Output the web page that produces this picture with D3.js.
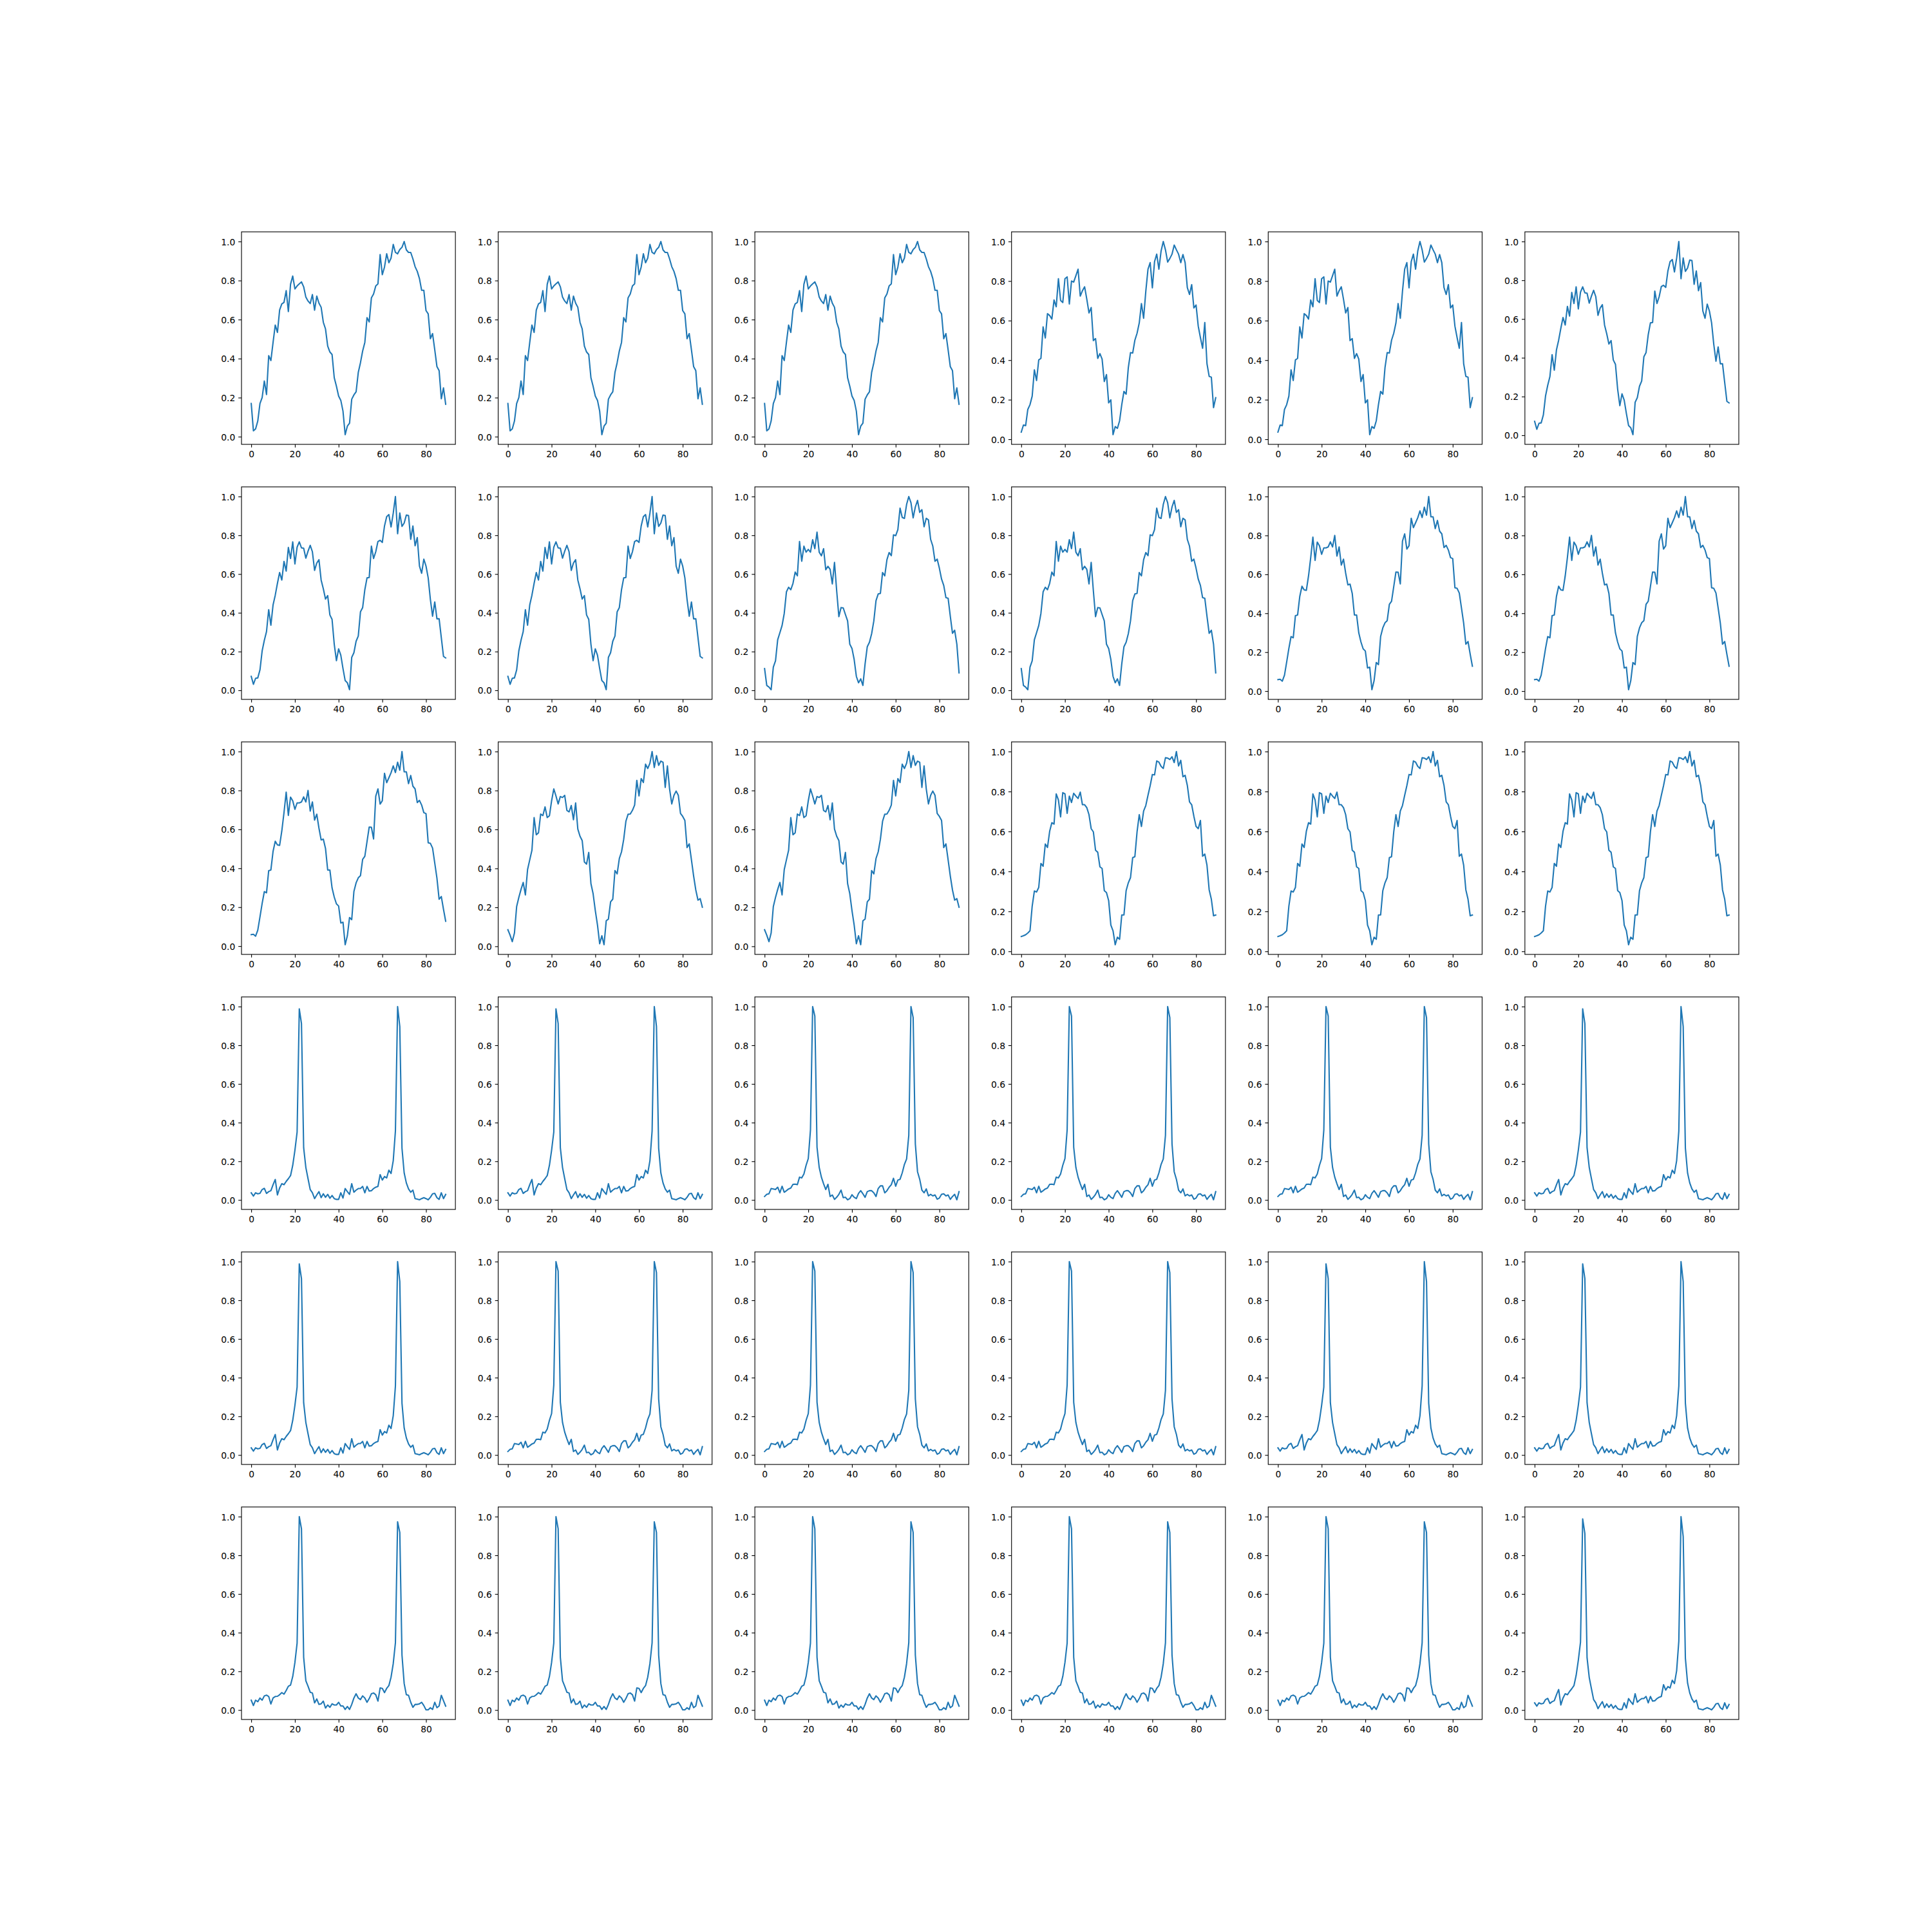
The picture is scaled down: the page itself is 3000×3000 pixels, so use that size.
<!DOCTYPE html>
<html><head><meta charset="utf-8">
<script src="https://cdn.jsdelivr.net/npm/d3@7"></script>
<style>body{margin:0;background:#fff}</style>
</head><body><svg id="chart" width="3000" height="3000"></svg>
<script>
// ---- data ----
const seriesA = [0.17,0.03,0.04,0.08,0.17,0.20,0.285,0.216,0.415,0.39,
 0.483,0.572,0.534,0.649,0.68,0.688,0.748,0.641,0.781,0.823,
 0.757,0.772,0.783,0.793,0.768,0.715,0.695,0.682,0.728,0.648,
 0.72,0.684,0.663,0.586,0.552,0.464,0.434,0.421,0.302,0.258,
 0.208,0.186,0.131,0.01,0.054,0.069,0.192,0.214,0.23,0.329,
 0.379,0.439,0.483,0.61,0.588,0.711,0.731,0.772,0.783,0.933,
 0.83,0.869,0.937,0.891,0.915,0.985,0.944,0.937,0.959,0.97,
 1.0,0.957,0.944,0.944,0.911,0.871,0.847,0.81,0.75,0.75,
 0.646,0.629,0.502,0.528,0.445,0.359,0.338,0.194,0.25,0.166];
const seriesB = [0.036,0.072,0.069,0.151,0.175,0.218,0.351,0.297,0.401,0.409,
 0.568,0.512,0.635,0.626,0.608,0.704,0.67,0.812,0.702,0.691,
 0.812,0.821,0.684,0.80,0.795,0.827,0.86,0.724,0.751,0.771,
 0.708,0.639,0.666,0.499,0.509,0.409,0.433,0.405,0.292,0.327,
 0.184,0.199,0.023,0.064,0.055,0.093,0.175,0.242,0.228,0.362,
 0.438,0.436,0.501,0.536,0.588,0.686,0.612,0.748,0.86,0.893,
 0.766,0.898,0.936,0.86,0.952,1.0,0.958,0.896,0.914,0.936,
 0.982,0.958,0.936,0.893,0.934,0.893,0.767,0.732,0.782,0.664,
 0.679,0.572,0.514,0.46,0.59,0.382,0.318,0.314,0.16,0.21];
const seriesC = [0.072,0.031,0.062,0.064,0.105,0.203,0.258,0.303,0.416,0.336,
 0.441,0.491,0.552,0.608,0.569,0.665,0.615,0.737,0.68,0.766,
 0.652,0.739,0.766,0.735,0.733,0.682,0.718,0.748,0.715,0.619,
 0.657,0.674,0.569,0.524,0.471,0.489,0.389,0.366,0.238,0.153,
 0.214,0.181,0.112,0.05,0.039,0.003,0.17,0.194,0.253,0.28,
 0.405,0.427,0.519,0.58,0.582,0.744,0.68,0.715,0.768,0.774,
 0.763,0.848,0.896,0.907,0.843,0.914,1.0,0.808,0.915,0.846,
 0.863,0.904,0.902,0.779,0.848,0.746,0.788,0.641,0.604,0.677,
 0.641,0.58,0.469,0.382,0.456,0.369,0.369,0.272,0.175,0.167];
const seriesE = [0.112,0.025,0.017,0.003,0.12,0.152,0.261,0.297,0.334,0.397,
 0.508,0.532,0.519,0.552,0.61,0.591,0.768,0.666,0.744,0.713,
 0.727,0.713,0.777,0.731,0.816,0.713,0.694,0.731,0.622,0.64,
 0.624,0.549,0.66,0.513,0.38,0.427,0.425,0.391,0.358,0.238,
 0.216,0.159,0.072,0.039,0.059,0.025,0.136,0.225,0.248,0.292,
 0.358,0.463,0.497,0.5,0.608,0.591,0.674,0.711,0.695,0.802,
 0.798,0.829,0.94,0.892,0.887,0.959,1.0,0.968,0.89,0.946,
 0.98,0.918,0.932,0.844,0.888,0.879,0.779,0.744,0.666,0.677,
 0.63,0.574,0.541,0.478,0.475,0.382,0.294,0.31,0.238,0.09];
const seriesF = [0.059,0.061,0.051,0.082,0.15,0.219,0.28,0.274,0.388,0.391,
 0.487,0.539,0.52,0.518,0.592,0.686,0.791,0.672,0.766,0.747,
 0.703,0.736,0.736,0.741,0.767,0.741,0.8,0.694,0.741,0.648,
 0.678,0.606,0.546,0.55,0.502,0.391,0.391,0.299,0.252,0.217,
 0.206,0.119,0.123,0.007,0.053,0.147,0.136,0.281,0.325,0.351,
 0.362,0.446,0.462,0.537,0.612,0.611,0.551,0.771,0.808,0.73,
 0.747,0.888,0.84,0.865,0.891,0.926,0.892,0.945,0.904,1.0,
 0.896,0.896,0.835,0.877,0.822,0.808,0.738,0.749,0.725,0.686,
 0.681,0.531,0.528,0.504,0.427,0.349,0.241,0.255,0.189,0.128];
const seriesH = [0.085,0.057,0.024,0.068,0.204,0.251,0.292,0.328,0.264,0.394,
 0.444,0.493,0.661,0.573,0.583,0.679,0.671,0.716,0.661,0.67,
 0.747,0.808,0.772,0.731,0.769,0.764,0.775,0.698,0.69,0.723,
 0.65,0.736,0.602,0.565,0.543,0.433,0.422,0.482,0.322,0.27,
 0.184,0.109,0.013,0.054,0.008,0.131,0.14,0.228,0.242,0.389,
 0.372,0.451,0.485,0.549,0.642,0.678,0.679,0.698,0.725,0.852,
 0.772,0.861,0.841,0.935,0.913,0.94,1.0,0.918,0.979,0.929,
 0.951,0.945,0.816,0.926,0.808,0.731,0.775,0.797,0.775,0.682,
 0.667,0.646,0.507,0.526,0.444,0.361,0.289,0.237,0.245,0.201];
const seriesI = [0.074,0.078,0.083,0.092,0.103,0.226,0.302,0.297,0.32,0.44,
 0.426,0.537,0.52,0.601,0.644,0.637,0.788,0.758,0.673,0.794,
 0.788,0.691,0.777,0.745,0.791,0.777,0.765,0.797,0.734,0.734,
 0.719,0.684,0.614,0.598,0.506,0.496,0.423,0.415,0.304,0.294,
 0.254,0.132,0.103,0.033,0.071,0.06,0.182,0.182,0.304,0.343,
 0.369,0.469,0.474,0.598,0.684,0.625,0.702,0.73,0.781,0.829,
 0.885,0.883,0.953,0.947,0.926,0.915,0.969,0.967,0.96,0.974,
 0.945,1.0,0.928,0.956,0.874,0.881,0.831,0.748,0.734,0.676,
 0.625,0.614,0.655,0.476,0.487,0.431,0.308,0.261,0.178,0.182];
const peakP = [0.037,0.02,0.037,0.032,0.034,0.054,0.06,0.034,0.043,0.048,
 0.079,0.106,0.026,0.062,0.084,0.079,0.096,0.11,0.126,0.179,
 0.257,0.351,0.988,0.912,0.27,0.168,0.11,0.054,0.037,0.007,
 0.026,0.043,0.012,0.032,0.014,0.029,0.009,0.023,0.007,0.003,
 0.003,0.037,0.01,0.059,0.043,0.029,0.084,0.04,0.051,0.059,
 0.059,0.07,0.037,0.07,0.046,0.048,0.059,0.066,0.07,0.131,
 0.103,0.121,0.114,0.154,0.137,0.203,0.357,1.0,0.896,0.268,
 0.14,0.088,0.057,0.04,0.051,0.007,0.004,0.001,0.007,0.012,
 0.007,0.001,0.014,0.032,0.034,0.012,0.003,0.037,0.007,0.029];
const peakQ = [0.018,0.029,0.032,0.059,0.057,0.054,0.066,0.037,0.071,0.04,
 0.048,0.057,0.062,0.081,0.082,0.079,0.118,0.114,0.134,0.179,
 0.214,0.362,1.0,0.951,0.273,0.168,0.118,0.084,0.054,0.081,
 0.018,0.026,0.003,0.014,0.029,0.051,0.012,0.014,0.001,0.007,
 0.027,0.014,0.007,0.034,0.048,0.032,0.014,0.043,0.048,0.048,
 0.037,0.018,0.059,0.073,0.073,0.037,0.048,0.066,0.079,0.112,
 0.071,0.103,0.107,0.14,0.184,0.212,0.334,1.0,0.943,0.29,
 0.146,0.107,0.051,0.037,0.057,0.021,0.029,0.021,0.026,0.004,
 0.01,0.029,0.032,0.021,0.026,0.003,0.018,0.029,0.001,0.043];
const peakR = [0.051,0.023,0.051,0.043,0.062,0.051,0.073,0.077,0.07,0.031,
 0.062,0.07,0.071,0.079,0.09,0.082,0.101,0.123,0.129,0.173,
 0.246,0.346,1.0,0.937,0.273,0.151,0.123,0.092,0.088,0.037,
 0.057,0.029,0.032,0.046,0.01,0.026,0.014,0.032,0.026,0.026,
 0.04,0.021,0.021,0.003,0.018,0.003,0.029,0.062,0.084,0.062,
 0.054,0.073,0.062,0.04,0.059,0.084,0.088,0.079,0.046,0.114,
 0.112,0.09,0.112,0.126,0.17,0.24,0.348,0.973,0.918,0.284,
 0.137,0.079,0.076,0.04,0.014,0.029,0.029,0.032,0.04,0.023,
 0.001,0.001,0.012,0.003,0.04,0.012,0.021,0.076,0.048,0.02];

const seriesByName = {A: seriesA, B: seriesB, C: seriesC, E: seriesE, F: seriesF,
  H: seriesH, I: seriesI, P: peakP, Q: peakQ, R: peakR};
const panelLayout = [
  ["A","A","A","B","B","C"],
  ["C","C","E","E","F","F"],
  ["F","H","H","I","I","I"],
  ["P","P","Q","Q","Q","P"],
  ["P","Q","Q","Q","P","P"],
  ["R","R","R","R","R","P"]
];
const xTicks = [0, 20, 40, 60, 80];
const yTicks = [0.0, 0.2, 0.4, 0.6, 0.8, 1.0];

(function draw() {
  // ---- layout (matplotlib default subplot params) ----
  const W = 3000, H = 3000;
  const padL = 0.125 * W, padR = 0.9 * W, padT = (1 - 0.88) * H, padB = (1 - 0.11) * H;
  const ncol = 6, nrow = 6, wspace = 0.2, hspace = 0.2;
  const cw = (padR - padL) / (ncol + (ncol - 1) * wspace);
  const ch = (padB - padT) / (nrow + (nrow - 1) * hspace);
  const pt = 100 / 72;
  const tickLen = 3.5 * pt, tickPad = 3.5 * pt, fontPx = 10 * pt;

  const svg = d3.select("#chart");
  svg.append("rect").attr("width", W).attr("height", H).attr("fill", "#fff");

  panelLayout.forEach((row, r) => {
    row.forEach((name, c) => {
      const data = seriesByName[name];
      const x0 = padL + c * cw * (1 + wspace);
      const y0 = padT + r * ch * (1 + hspace);
      const g = svg.append("g").attr("transform", `translate(${x0},${y0})`);
      const n = data.length - 1;
      const x = d3.scaleLinear().domain([-0.05 * n, n + 0.05 * n]).range([0, cw]);
      const [mn, mx] = d3.extent(data);
      const pad = 0.05 * (mx - mn);
      const y = d3.scaleLinear().domain([mn - pad, mx + pad]).range([ch, 0]);

      g.append("path").datum(data)
        .attr("fill", "none").attr("stroke", "#1f77b4")
        .attr("stroke-width", 1.5 * pt)
        .attr("stroke-linejoin", "round").attr("stroke-linecap", "square")
        .attr("d", d3.line().x((d, i) => x(i)).y(d => y(d)));

      const xa = g.append("g").attr("transform", `translate(0,${ch})`)
        .call(d3.axisBottom(x).tickValues(xTicks).tickFormat(d3.format("d"))
          .tickSize(tickLen).tickPadding(tickPad));
      const ya = g.append("g")
        .call(d3.axisLeft(y).tickValues(yTicks).tickFormat(d3.format(".1f"))
          .tickSize(tickLen).tickPadding(tickPad));
      [xa, ya].forEach(a => {
        a.select(".domain").remove();
        a.attr("font-family", "'DejaVu Sans', sans-serif").attr("font-size", fontPx);
        a.selectAll(".tick line").attr("stroke", "#000").attr("stroke-width", 0.8 * pt);
        a.selectAll(".tick text").attr("fill", "#000");
      });
      ya.selectAll(".tick text").attr("dy", "0.36em");

      g.append("rect").attr("x", 0).attr("y", 0).attr("width", cw).attr("height", ch)
        .attr("fill", "none").attr("stroke", "#000").attr("stroke-width", 0.8 * pt);
    });
  });
})();
</script></body></html>
